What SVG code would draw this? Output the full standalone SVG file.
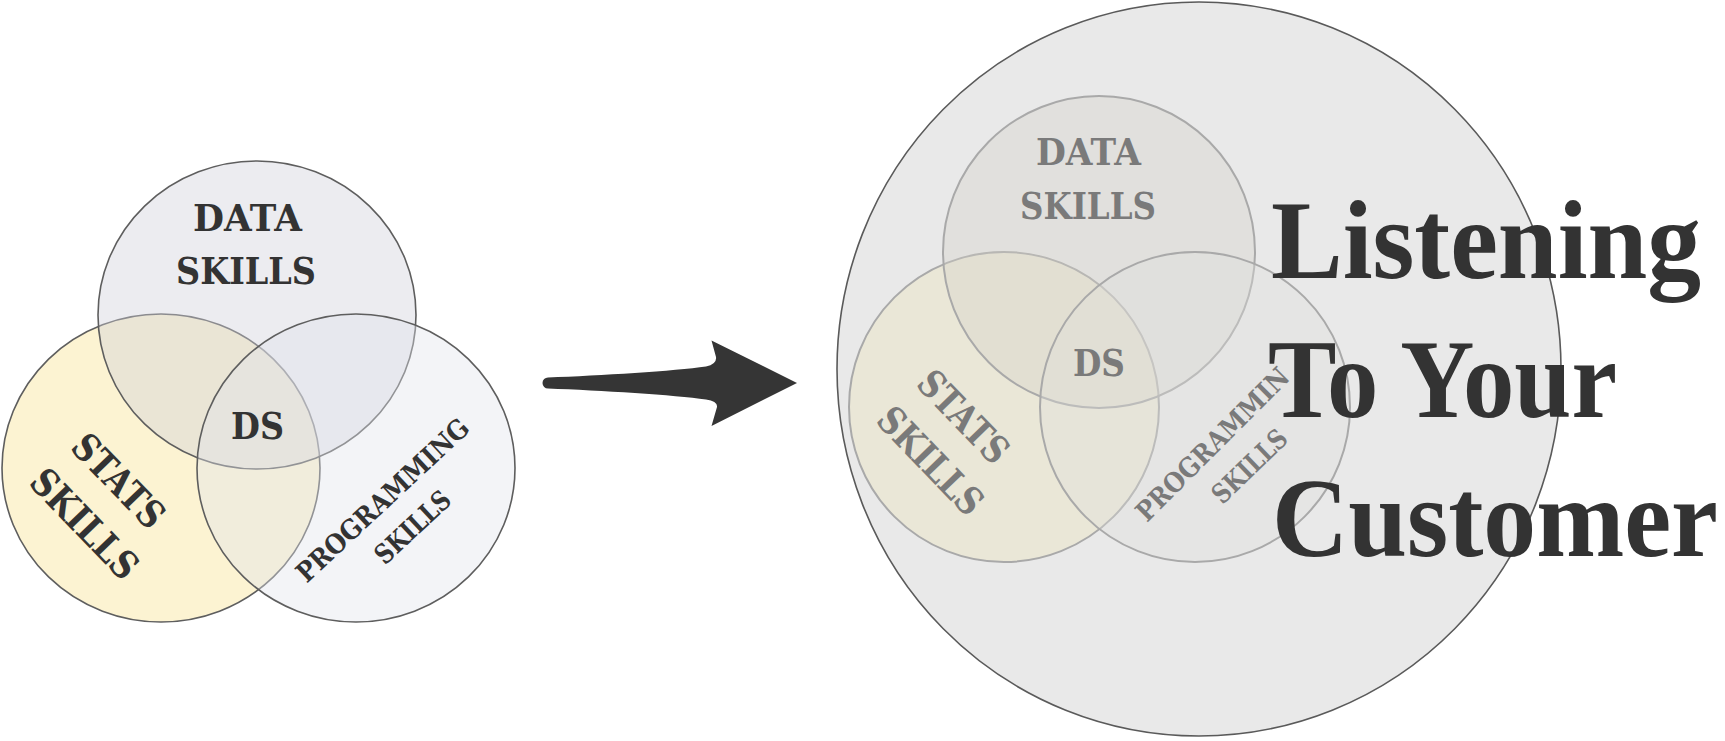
<svg xmlns="http://www.w3.org/2000/svg" width="1725" height="741" viewBox="0 0 1725 741">
<style>
.lc{stroke:#5e5e5e;stroke-width:1.6;fill-opacity:0.4}
.rc{stroke:#a9a9a9;stroke-width:2;fill-opacity:0.35}
.lbl{font-family:"DejaVu Serif","Liberation Serif",serif;font-weight:bold;font-size:38px;text-anchor:middle}
.dark{fill:#333333}
.grey{fill:#7a7a7a}
.small{font-size:27px}
.big{font-family:"Liberation Serif","DejaVu Serif",serif;font-weight:bold;font-size:112px;fill:#333333}
</style>
<rect width="1725" height="741" fill="#ffffff"/>

<!-- Left Venn -->
<g id="left-stats"><ellipse class="lc" cx="161" cy="468" rx="159" ry="154" fill="#f8e08f"/></g>
<g id="left-data"><ellipse class="lc" cx="257" cy="315" rx="159" ry="154" fill="#cfd0da"/></g>
<g id="left-programming"><ellipse class="lc" cx="356" cy="468" rx="159" ry="154" fill="#e2e3ea"/></g>
<g id="left-labels">
  <text class="lbl dark" x="247.5" y="231" textLength="109" lengthAdjust="spacingAndGlyphs">DATA</text>
  <text class="lbl dark" x="246" y="284" textLength="140" lengthAdjust="spacingAndGlyphs">SKILLS</text>
  <text class="lbl dark" x="257.5" y="439" textLength="53" lengthAdjust="spacingAndGlyphs">DS</text>
  <text class="lbl dark" transform="translate(109,490) rotate(46)" textLength="115" lengthAdjust="spacingAndGlyphs">STATS</text>
  <text class="lbl dark" transform="translate(75,533) rotate(46)" textLength="137" lengthAdjust="spacingAndGlyphs">SKILLS</text>
  <text class="lbl dark small" transform="translate(389,507) rotate(-43)" textLength="225" lengthAdjust="spacingAndGlyphs">PROGRAMMING</text>
  <text class="lbl dark small" transform="translate(419,534) rotate(-43)" textLength="93" lengthAdjust="spacingAndGlyphs">SKILLS</text>
</g>

<!-- Connector -->
<g id="connectors">
  <path d="M548,377.5 C600,375.5 675,371 706,366.5 Q717,364 716,357 L711.5,340.5 L797,383 L711.5,426 L717,407 Q718,401.5 706,399.5 C675,395 600,390.5 548,388.5 A5.5,5.5 0 0 1 548,377.5 Z" fill="#353535"/>
</g>

<!-- Right: big circle -->
<g id="customer-circle"><ellipse cx="1199" cy="369" rx="362" ry="367" fill="#e9e9e9" stroke="#5a5a5a" stroke-width="1.6"/></g>

<!-- Right inner Venn -->
<g id="right-stats"><circle class="rc" cx="1004" cy="407" r="155" fill="#efe6b8"/></g>
<g id="right-data"><circle class="rc" cx="1099" cy="252" r="156" fill="#d3d1c8"/></g>
<g id="right-programming"><circle class="rc" cx="1195" cy="407" r="155" fill="#e0e0dc"/></g>
<g id="right-labels">
  <text class="lbl grey" x="1088.5" y="165" textLength="105" lengthAdjust="spacingAndGlyphs">DATA</text>
  <text class="lbl grey" x="1088" y="219" textLength="136" lengthAdjust="spacingAndGlyphs">SKILLS</text>
  <text class="lbl grey" x="1099" y="376" textLength="52" lengthAdjust="spacingAndGlyphs">DS</text>
  <text class="lbl grey" transform="translate(954,426) rotate(46)" textLength="113" lengthAdjust="spacingAndGlyphs">STATS</text>
  <text class="lbl grey" transform="translate(921,470) rotate(46)" textLength="134" lengthAdjust="spacingAndGlyphs">SKILLS</text>
  <text class="lbl grey small" style="text-anchor:start" transform="translate(1147,523) rotate(-45)" textLength="204" lengthAdjust="spacingAndGlyphs">PROGRAMMIN</text>
  <text class="lbl grey small" transform="translate(1256,473) rotate(-44)" textLength="93" lengthAdjust="spacingAndGlyphs">SKILLS</text>
</g>

<g id="customer-label">
  <text class="big" x="1271" y="278" textLength="430" lengthAdjust="spacingAndGlyphs">Listening</text>
  <text class="big" x="1268" y="417" textLength="349" lengthAdjust="spacingAndGlyphs">To Your</text>
  <text class="big" x="1272" y="556" textLength="446" lengthAdjust="spacingAndGlyphs">Customer</text>
</g>
</svg>
